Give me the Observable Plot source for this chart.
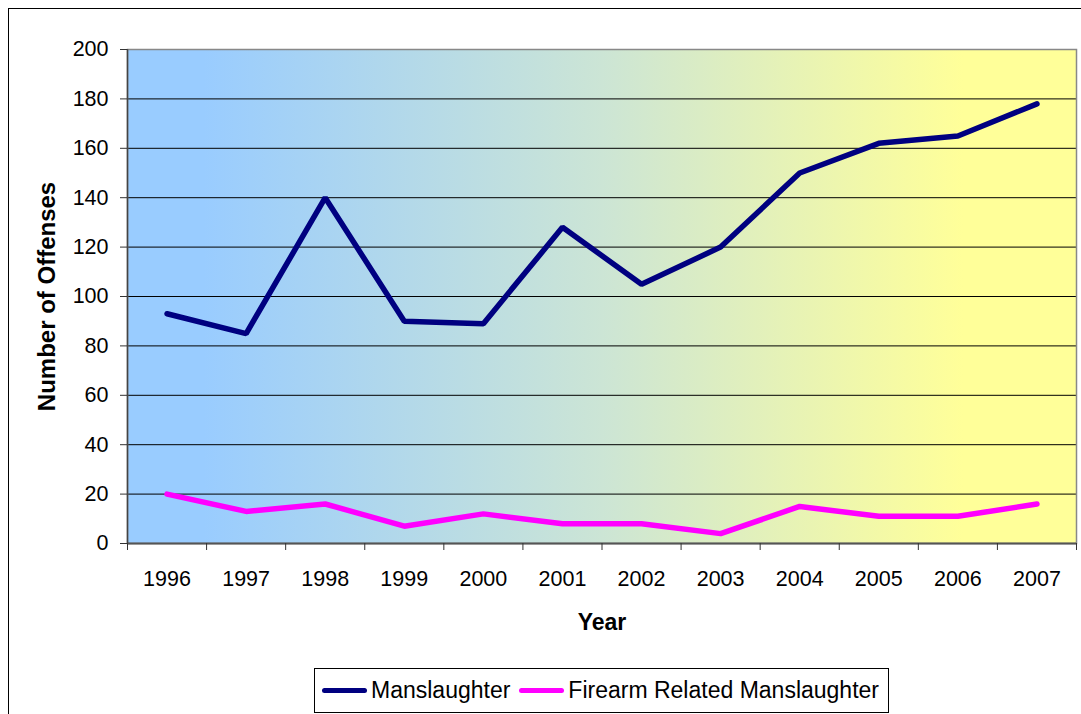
<!DOCTYPE html>
<html><head><meta charset="utf-8">
<script src="https://cdn.jsdelivr.net/npm/d3@7"></script>
<script src="https://cdn.jsdelivr.net/npm/@observablehq/plot@0.6"></script>
<style>
html,body{margin:0;padding:0;overflow:hidden;background:#fff;width:1081px;height:714px;}
body{position:relative;font-family:"Liberation Sans",Arial,sans-serif;}
#frame{position:absolute;left:8px;top:8px;width:1200px;height:800px;border:1.5px solid #000;box-sizing:border-box;}
#chart{position:absolute;left:0;top:0;}
#legend{position:absolute;left:314px;top:668px;width:575px;height:45px;border:1px solid #000;box-sizing:border-box;background:#fff;display:flex;align-items:center;padding-left:7px;font-size:23px;color:#000;}
.sw{display:inline-block;width:45px;height:5px;border-radius:3px;margin-right:4px;}
.item{display:flex;align-items:center;margin-right:9px;}
</style>
</head><body>
<div id="frame"></div>
<div id="chart"></div>
<div id="legend"></div>
<script>
const years = [1996,1997,1998,1999,2000,2001,2002,2003,2004,2005,2006,2007];
const manslaughter = [93,85,140,90,89,128,105,120,150,162,165,178];
const firearm = [20,13,16,7,12,8,8,4,15,11,11,16];
const yTicks = [0,20,40,60,80,100,120,140,160,180,200];
const seriesNames = ["Manslaughter","Firearm Related Manslaughter"];
const seriesColors = ["#000080","#FF00FF"];
const xTitle = "Year";
const yTitle = "Number of Offenses";

const bounds = years.map(y => y - 0.5).concat([years[years.length-1] + 0.5]);
const rows = [];
years.forEach((y,i) => {
  rows.push({year:y, value:manslaughter[i], series:seriesNames[0]});
});
years.forEach((y,i) => {
  rows.push({year:y, value:firearm[i], series:seriesNames[1]});
});

const defs = () => {
  const g = d3.create("svg:defs");
  const lg = g.append("linearGradient").attr("id","bg").attr("x1","0").attr("x2","1").attr("y1","0").attr("y2","0");
  lg.append("stop").attr("offset","8%").attr("stop-color","#99CCFF");
  lg.append("stop").attr("offset","50%").attr("stop-color","#CCE5D5");
  lg.append("stop").attr("offset","88%").attr("stop-color","#FFFF99");
  return g.node();
};

const chart = Plot.plot({
  width: 1081,
  height: 660,
  marginLeft: 127,
  marginRight: 5,
  marginTop: 49,
  marginBottom: 117,
  style: {background: "transparent", fontFamily: "'Liberation Sans', Arial, sans-serif", color: "#000", overflow: "visible"},
  x: {type: "linear", domain: [bounds[0], bounds[bounds.length-1]]},
  y: {domain: [0, 200]},
  color: {domain: seriesNames, range: seriesColors},
  marks: [
    defs,
    Plot.frame({fill: "url(#bg)", stroke: null}),
    Plot.ruleY(yTicks.filter(v => v > 0 && v < 200), {stroke: "#000", strokeWidth: 1}),
    Plot.line(rows.filter(d => d.series === seriesNames[1]), {x: "year", y: "value", stroke: seriesColors[1], strokeWidth: 5.5, strokeLinejoin: "miter", strokeLinecap: "round"}),
    Plot.line(rows.filter(d => d.series === seriesNames[0]), {x: "year", y: "value", stroke: seriesColors[0], strokeWidth: 5.5, strokeLinejoin: "miter", strokeLinecap: "round"}),
    Plot.frame({stroke: "#888", strokeWidth: 1.5}),
    Plot.ruleY([0], {stroke: "#555", strokeWidth: 2}),
    Plot.ruleX([bounds[0]], {stroke: "#444", strokeWidth: 1.5}),
    Plot.axisY({ticks: yTicks, tickSize: 7, tickPadding: 12, fontSize: 21.5, label: null, stroke: "#333"}),
    Plot.axisX({ticks: bounds, tickSize: 7, tickFormat: () => "", label: null, stroke: "#333"}),
    Plot.axisX({ticks: years, tickSize: 0, tickPadding: 27, tickFormat: d => String(d), fontSize: 21.5, label: null}),
    Plot.text([xTitle], {frameAnchor: "bottom", dy: 79, lineAnchor: "middle", fontWeight: "bold", fontSize: 23, fill: "#000"}),
    Plot.text([yTitle], {frameAnchor: "left", dx: -80, rotate: -90, textAnchor: "middle", lineAnchor: "middle", fontWeight: "bold", fontSize: 24, fill: "#000"})
  ]
});
document.getElementById("chart").appendChild(chart);

const legend = document.getElementById("legend");
seriesNames.forEach((name, i) => {
  const item = document.createElement("span");
  item.className = "item";
  const sw = document.createElement("span");
  sw.className = "sw";
  sw.style.background = seriesColors[i];
  item.appendChild(sw);
  item.appendChild(document.createTextNode(name));
  legend.appendChild(item);
});
</script>
</body></html>
